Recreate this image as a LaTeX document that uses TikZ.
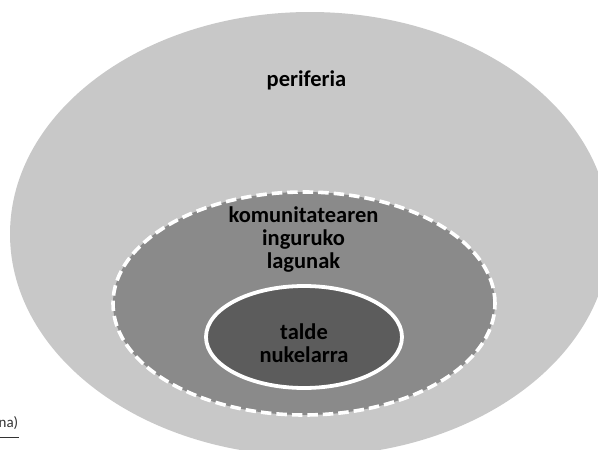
\documentclass[tikz,border=0pt]{standalone}
\usepackage{fontspec}
\setmainfont{Carlito}
\usetikzlibrary{shapes.geometric}
\definecolor{periph}{HTML}{C8C8C8}
\definecolor{middlering}{HTML}{8A8A8A}
\definecolor{corering}{HTML}{5C5C5C}
\definecolor{captiongray}{HTML}{333333}
\tikzset{
  ring/.style={ellipse, inner sep=0pt, outer sep=0pt},
  label text/.style={font=\bfseries\fontsize{22.5}{23}\selectfont, align=center, text=black, inner sep=0pt, anchor=base}
}
\begin{document}
\begin{tikzpicture}[x=1pt, y=-1pt]
  \useasboundingbox (0,0) rectangle (598,450);
  \clip (0,0) rectangle (598,450);
  % nested circles of participation
  \node[ring, fill=periph, minimum width=600pt, minimum height=444pt] (outer) at (310,234) {};
  \node[ring, fill=middlering, draw=white, line width=3.6pt, dash pattern=on 10.5pt off 5pt,
        minimum width=382pt, minimum height=223pt] (middle) at (304,303.5) {};
  \node[ring, fill=corering, draw=white, line width=3.8pt,
        minimum width=196pt, minimum height=102pt] (core) at (304,337) {};
  % labels (base anchor sits on the baseline of the last line)
  \node[label text] (tperiph) at (306.5,86) {periferia};
  \node[label text] (tmiddle) at (303.5,268) {komunitatearen\\inguruko\\lagunak};
  \node[label text] (tcore) at (304,362) {talde\\nukelarra};
  % caption fragment at the left margin
  \node[anchor=base east, inner sep=0pt, text=captiongray, font=\fontsize{15}{17}\selectfont] (cap) at (18.5,427) {na)};
  \coordinate (ruleL) at (0,437.5);
  \coordinate (ruleR) at (18.5,437.5);
  \draw[captiongray, line width=0.8pt] (ruleL) -- (ruleR);
\end{tikzpicture}
\end{document}
